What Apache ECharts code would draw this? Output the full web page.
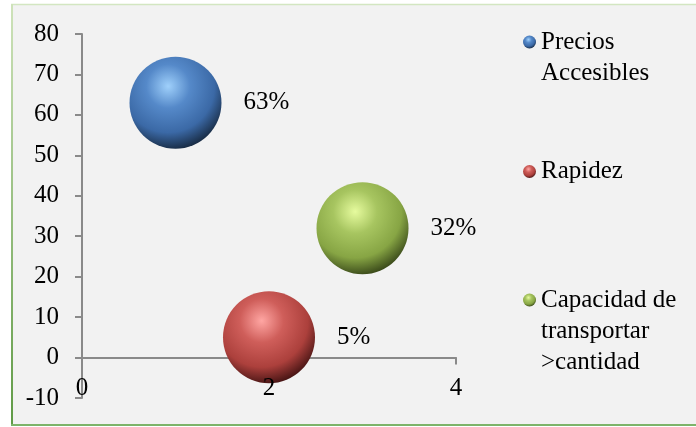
<!DOCTYPE html>
<html>
<head>
<meta charset="utf-8">
<title>Bubble chart</title>
<script src="https://cdn.jsdelivr.net/npm/echarts@6/dist/echarts.min.js"></script>
<style>
  html, body { margin: 0; padding: 0; background: #ffffff; }
  #chart { width: 696px; height: 427px; }
</style>
</head>
<body>
<div id="chart"></div>
<script>
// Series definitions (one bubble per series)
const seriesNames = ['Precios Accesibles', 'Rapidez', 'Capacidad de transportar >cantidad'];
const legendLines = [['Precios', 'Accesibles'], ['Rapidez'], ['Capacidad de', 'transportar', '>cantidad']];
const xValues = [1, 2, 3];
const yValues = [63, 5, 32];

// Axis ranges
const xMin = 0, xMax = 4, xStep = 2;
const yMin = -10, yMax = 80, yStep = 10;

// Sphere shading per series: highlight, body, edge
const palettes = [
  ['#9fd0fb', '#5589c9', '#3b69a6', '#142438'],
  ['#ffa6a3', '#cf5e5a', '#ac403c', '#3a0f0f'],
  ['#e6fb9e', '#a7c560', '#87a544', '#313f15']
];

const FONT = "'Liberation Serif', 'Times New Roman', serif";
const LINE_H = 31;
const BUBBLE = 92;
const AXIS_GRAY = '#8a8a8a';

function sphere(p) {
  return {
    type: 'radial', x: 0.42, y: 0.32, r: 0.72,
    colorStops: [
      { offset: 0, color: p[0] },
      { offset: 0.33, color: p[1] },
      { offset: 0.7, color: p[2] },
      { offset: 1, color: p[3] }
    ]
  };
}

const legendCenters = [42, 171.5, 300];

const chart = echarts.init(document.getElementById('chart'), null, { renderer: 'canvas' });

const series = seriesNames.map((name, i) => ({
  name: name,
  type: 'scatter',
  symbol: 'circle',
  symbolSize: BUBBLE,
  data: [[xValues[i], yValues[i]]],
  itemStyle: { color: sphere(palettes[i]), opacity: 1 },
  label: {
    show: true,
    position: 'right',
    distance: 22,
    formatter: p => p.value[1] + '%',
    fontFamily: FONT,
    fontSize: 25,
    color: '#000'
  },
  emphasis: { disabled: true }
}));

// Each legend entry gets blank lines above its text so the marker sits on the first line
const legends = seriesNames.map((name, i) => {
  const n = legendLines[i].length;
  const h = (2 * n - 1) * LINE_H;
  const blank = new Array(n - 1).fill('\u00a0');
  return {
    data: [name],
    orient: 'vertical',
    left: 523,
    top: legendCenters[i] - h / 2,
    padding: 0,
    itemWidth: 13,
    itemHeight: 13,
    icon: 'circle',
    selectedMode: false,
    formatter: () => blank.concat(legendLines[i]).join('\n'),
    textStyle: {
      fontFamily: FONT,
      fontSize: 25,
      color: '#000',
      lineHeight: LINE_H
    }
  };
});

const xAxisBase = {
  type: 'value',
  min: xMin, max: xMax, interval: xStep,
  splitLine: { show: false }
};

chart.setOption({
  animation: false,
  backgroundColor: '#ffffff',
  graphic: [
    {
      type: 'rect', z: -10, silent: true,
      shape: { x: 11, y: 4, width: 700, height: 421 },
      style: { fill: '#f2f2f2' }
    },
    {
      type: 'line', z: -9, silent: true,
      shape: { x1: 11, y1: 4.5, x2: 700, y2: 4.5 },
      style: { stroke: '#d3e6c1', lineWidth: 1.5 }
    },
    {
      type: 'line', z: -9, silent: true,
      shape: { x1: 12, y1: 4, x2: 12, y2: 425 },
      style: {
        stroke: {
          type: 'linear', x: 0, y: 0, x2: 0, y2: 1, global: false,
          colorStops: [{ offset: 0, color: '#cfe3bb' }, { offset: 1, color: '#5f9a45' }]
        },
        lineWidth: 2
      }
    },
    {
      type: 'line', z: -9, silent: true,
      shape: { x1: 11, y1: 425, x2: 700, y2: 425 },
      style: { stroke: '#7db46a', lineWidth: 2 }
    }
  ],
  legend: legends,
  grid: { left: 82, top: 34, width: 374, height: 364, containLabel: false, outerBoundsMode: 'none' },
  xAxis: [
    // axis line and ticks, drawn beneath the bubbles
    Object.assign({}, xAxisBase, {
      z: 0,
      axisLine: { show: true, onZero: true, lineStyle: { color: AXIS_GRAY, width: 2 } },
      axisTick: { show: true, inside: false, length: 7, lineStyle: { color: AXIS_GRAY, width: 2 } },
      axisLabel: { show: false }
    }),
    // tick labels, drawn above the bubbles
    Object.assign({}, xAxisBase, {
      z: 5,
      position: 'bottom',
      axisLine: { show: false, onZero: true },
      axisTick: { show: false },
      axisLabel: { margin: -22, fontFamily: FONT, fontSize: 25, color: '#000' }
    })
  ],
  yAxis: {
    type: 'value',
    min: yMin, max: yMax, interval: yStep,
    axisLine: { show: true, onZero: false, lineStyle: { color: AXIS_GRAY, width: 2 } },
    axisTick: { show: true, inside: false, length: 7, lineStyle: { color: AXIS_GRAY, width: 2 } },
    axisLabel: { margin: 23, fontFamily: FONT, fontSize: 25, color: '#000' },
    splitLine: { show: false }
  },
  series: series
});
</script>
</body>
</html>
